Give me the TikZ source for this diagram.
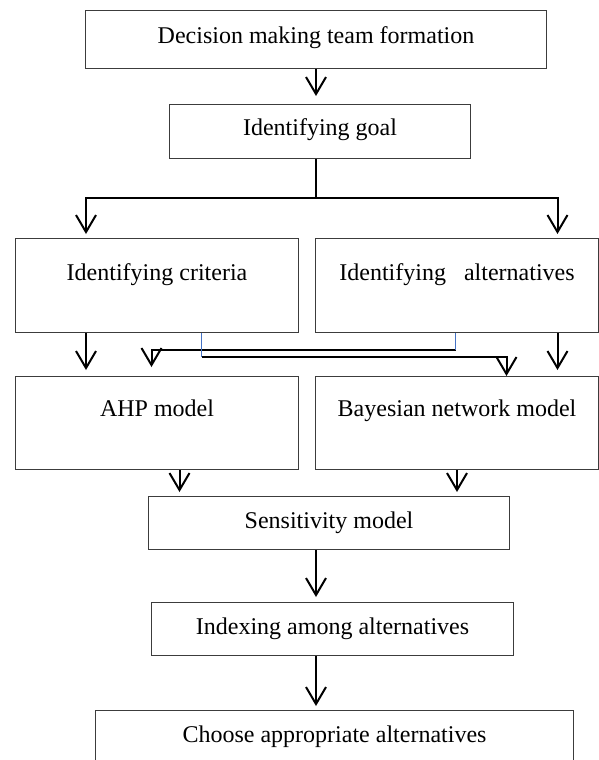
\documentclass[tikz,border=0pt]{standalone}
\usepackage{fontspec}
\setmainfont{Liberation Serif}
\usetikzlibrary{arrows.meta,calc}
\definecolor{flowGrey}{RGB}{60,60,60}
\definecolor{flowBlue}{RGB}{68,114,196}

\begin{document}
\begin{tikzpicture}[
  x=0.5pt, y=-0.5pt,
  stepnode/.style={draw=flowGrey, line width=0.5pt, inner sep=0pt, anchor=north west,
                   font=\fontsize{12}{14}\selectfont, text height=16pt, text depth=10.5pt},
  tallnode/.style={stepnode, minimum width=141.5pt, text height=20pt, text depth=26.5pt},
  trunk/.style={line width=1pt},
  arrow/.style={-{Straight Barb[length=8.5pt,width=10pt]}, line width=1pt},
  feed/.style={line width=0.7pt, flowBlue}
]
\useasboundingbox (0,0) rectangle (599,760);
\clip (0,0) rectangle (599,760);
\node[stepnode, minimum width=230.5pt, text height=16.5pt, text depth=12.5pt] (team) at (85,10) {Decision making team formation};
\node[stepnode, minimum width=150.5pt, text height=15.5pt, text depth=11.5pt] (goal) at (169,104) {Identifying goal};
\node[tallnode, text height=21pt, text depth=26pt] (criteria) at (15,238) {Identifying criteria};
\node[tallnode, text height=21pt, text depth=26pt] (alternatives) at (315,238) {Identifying\ \ \ alternatives};
\node[tallnode] (ahp) at (15,376) {AHP model};
\node[tallnode] (bayes) at (315,376) {Bayesian network model};
\node[stepnode, minimum width=180.5pt] (sensitivity) at (148,496) {Sensitivity model};
\node[stepnode, minimum width=181pt] (indexing) at (151,602) {Indexing among alternatives};
\node[stepnode, minimum width=239pt, text depth=40pt] (choose) at (95,710) {Choose appropriate alternatives};
% goal splits into criteria and alternatives
\draw[arrow, shorten >=4pt] (team.south) -- (team.south |- goal.north);
\coordinate (split) at ($(team.south |- goal.south)+(0,39)$);
\draw[trunk] (team.south |- goal.south) -- (split);
\draw[arrow, shorten >=2pt] (split) -| ($(criteria.north)+(-71,0)$);
\draw[arrow, shorten >=2pt] (split) -| ($(alternatives.north)+(100.5,0)$);
% inputs of the two models
\draw[arrow, shorten >=3pt] ($(criteria.south)+(-71,0)$) -- ($(ahp.north)+(-71,0)$);
\draw[arrow, shorten >=3pt] ($(alternatives.south)+(100.5,0)$) -- ($(bayes.north)+(100.5,0)$);
\coordinate (altdrop) at ($(alternatives.south)+(-1.5,17)$);
\coordinate (critdrop) at ($(criteria.south)+(44.5,24)$);
\draw[arrow, shorten >=4.5pt] (altdrop) -| ($(ahp.north)+(-5.5,0)$);
\draw[arrow] (critdrop) -| ($(bayes.north)+(49.5,0)$);
\draw[feed] (alternatives.south -| altdrop) -- (altdrop);
\draw[feed] (criteria.south -| critdrop) -- (critdrop);
% models to the end
\coordinate (ahpout) at ($(ahp.south)+(22.5,0)$);
\draw[arrow, shorten >=2pt] (ahpout) -- (ahpout |- sensitivity.north);
\draw[arrow, shorten >=2pt] (bayes.south) -- (bayes.south |- sensitivity.north);
\draw[arrow, shorten >=2.5pt] (team.south |- sensitivity.south) -- (team.south |- indexing.north);
\draw[arrow, shorten >=2pt] (team.south |- indexing.south) -- (team.south |- choose.north);
\end{tikzpicture}
\end{document}
